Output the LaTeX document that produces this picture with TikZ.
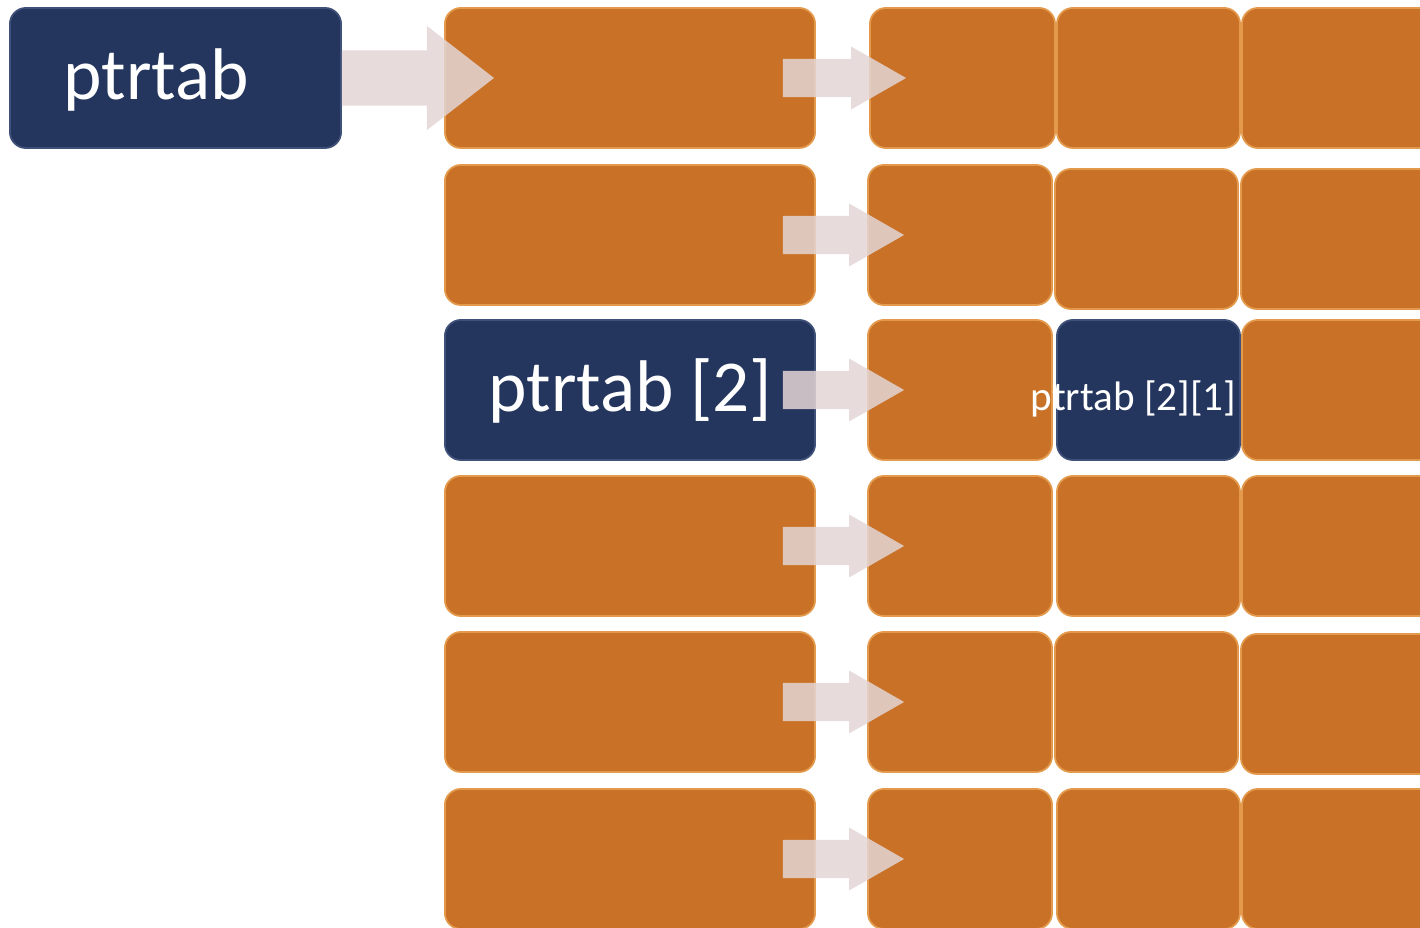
\documentclass[tikz,border=0pt]{standalone}
\usepackage{fontspec}
\setmainfont{Carlito}
\usetikzlibrary{calc}
\definecolor{navy}{HTML}{24355E}
\definecolor{ora}{HTML}{C97227}
\definecolor{orarim}{HTML}{E39A4C}
\definecolor{navrim}{HTML}{3F5079}
\definecolor{arr}{HTML}{E4D5D5}
\tikzset{
 cell/.style={rectangle, rounded corners=0.16cm, fill=ora, draw=orarim, line width=0.5pt, inner sep=0, minimum height=1.4cm},
 navcell/.style={cell, fill=navy, draw=navrim},
 fat/.style={fill=arr, fill opacity=0.85},
 bigtxt/.style={text=white, font=\fontsize{20.8}{24}\selectfont, inner sep=0},
 smalltxt/.style={text=white, font=\fontsize{11.7}{14}\selectfont, inner sep=0},
}
\newcommand\fatarrow[5]{\fill[fat] let \p1=(#1), \p2=(#2) in (\x1,{\y1+#3}) -- ({\x2-#5},{\y1+#3}) -- ({\x2-#5},{\y1+#4}) -- (\x2,\y1) -- ({\x2-#5},{\y1-#4}) -- ({\x2-#5},{\y1-#3}) -- (\x1,{\y1-#3}) -- cycle;}
\begin{document}
\begin{tikzpicture}[x=0.01cm,y=-0.01cm]
\useasboundingbox (0,0) rectangle (1420,928);
\clip (0,0) rectangle (1420,928);
% pointer
\node[navcell, minimum width=3.31cm] (p) at (175.5,78) {};
% column 1
\node[cell, minimum width=3.7cm] (r1) at (630,78) {};
\node[cell, minimum width=3.7cm] (r2) at (630,235) {};
\node[navcell, minimum width=3.7cm] (r3) at (630,390) {};
\node[cell, minimum width=3.7cm] (r4) at (630,546) {};
\node[cell, minimum width=3.7cm] (r5) at (630,702) {};
\node[cell, minimum width=3.7cm] (r6) at (630,859) {};
% row 1 cells
\node[cell, minimum width=1.85cm] (c1a) at (962.5,78) {};
\node[cell, minimum width=1.83cm] (c1b) at (1148.5,78) {};
\node[cell, minimum width=1.98cm] (c1c) at (1341,78) {};
% row 2 cells
\node[cell, minimum width=1.84cm] (c2a) at (960,235) {};
\node[cell, minimum width=1.83cm] (c2b) at (1146.5,239) {};
\node[cell, minimum width=1.99cm] (c2c) at (1340.5,239) {};
% row 3 cells
\node[cell, minimum width=1.84cm] (c3a) at (960,390) {};
\node[navcell, minimum width=1.83cm] (c3b) at (1148.5,390) {};
\node[cell, minimum width=1.98cm] (c3c) at (1341,390) {};
% row 4 cells
\node[cell, minimum width=1.84cm] (c4a) at (960,546) {};
\node[cell, minimum width=1.83cm] (c4b) at (1148.5,546) {};
\node[cell, minimum width=1.98cm] (c4c) at (1341,546) {};
% row 5 cells
\node[cell, minimum width=1.84cm] (c5a) at (960,702) {};
\node[cell, minimum width=1.83cm] (c5b) at (1146.5,702) {};
\node[cell, minimum width=1.99cm] (c5c) at (1340.5,704) {};
% row 6 cells
\node[cell, minimum width=1.84cm] (c6a) at (960,859) {};
\node[cell, minimum width=1.83cm] (c6b) at (1148.5,859) {};
\node[cell, minimum width=1.98cm] (c6c) at (1341,859) {};
% labels
\node[bigtxt, anchor=base west] (lp) at (63,100) {ptrtab};
\node[bigtxt, anchor=base west] (l3) at (488,412) {ptrtab [2]};
% arrows
\coordinate (bs) at (p.east);
\coordinate (bt) at ($(r1.west)+(50,0)$);
\fatarrow{bs}{bt}{0.275cm}{0.52cm}{0.67cm}
\foreach \i in {1,...,6}{
  \coordinate (s\i) at ($(r\i.east)+(-33,0)$);
  \coordinate (t\i) at ($(c\i a.west)+(37,0)$);
  \fatarrow{s\i}{t\i}{0.19cm}{0.315cm}{0.55cm}
}
\node[smalltxt, anchor=base west] (l31) at (1030,411) {ptrtab [2][1]};
\end{tikzpicture}
\end{document}
